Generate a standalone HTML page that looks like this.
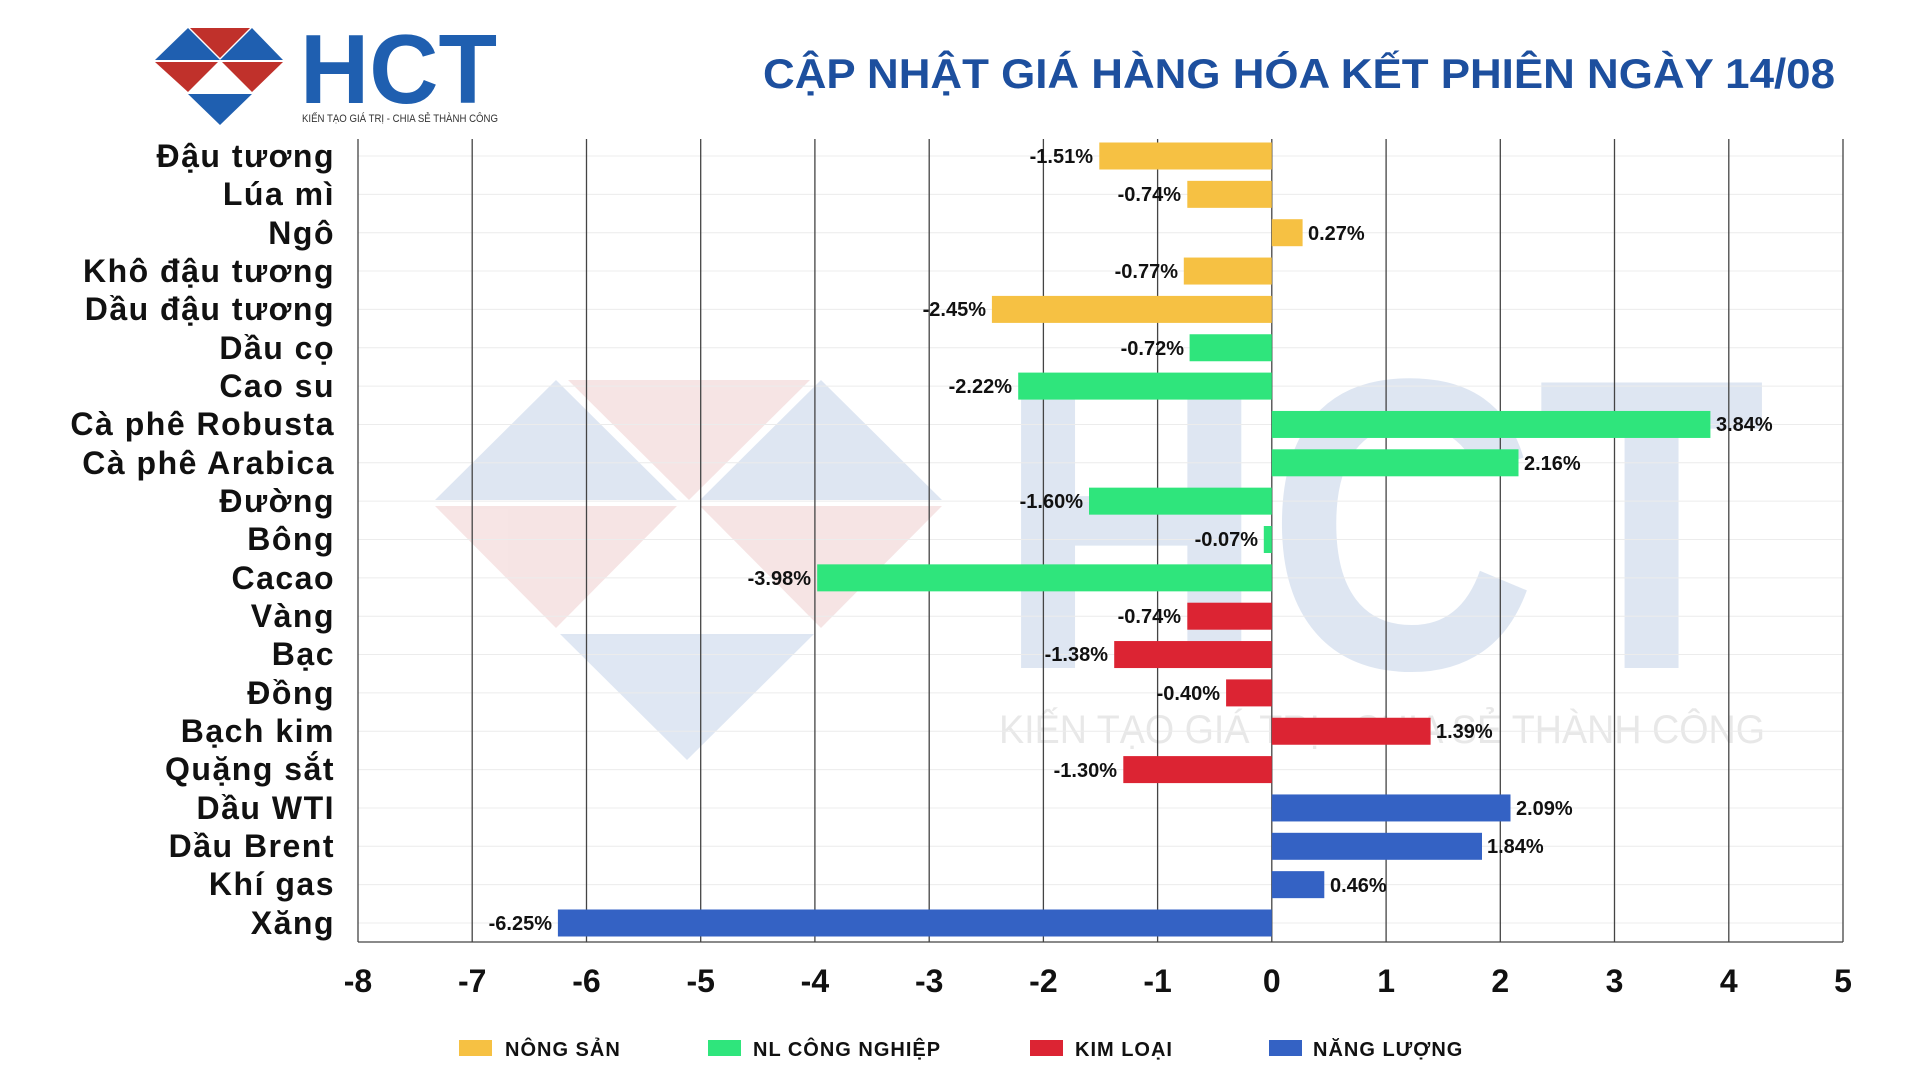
<!DOCTYPE html>
<html><head><meta charset="utf-8"><style>
html,body{margin:0;padding:0;background:#fff;}
svg{display:block;font-family:"Liberation Sans","DejaVu Sans",sans-serif;}
</style></head><body>
<svg width="1920" height="1080" viewBox="0 0 1920 1080" xmlns="http://www.w3.org/2000/svg">
<!-- watermark -->
<g opacity="0.22">
<polygon points="435,500 556,380 677,500" fill="#6f93c8"/>
<polygon points="568,380 810,380 689,500" fill="#d98a8a"/>
<polygon points="700,500 821,380 942,500" fill="#6f93c8"/>
<polygon points="435,506 677,506 556,628" fill="#d98a8a"/>
<polygon points="700,506 942,506 821,628" fill="#d98a8a"/>
<polygon points="560,634 814,634 687,760" fill="#6f93c8"/>
<text x="996" y="668" font-size="415" font-weight="bold" fill="#6f93c8" textLength="770" lengthAdjust="spacingAndGlyphs">HCT</text>
<text x="999" y="743" font-size="40" fill="#999" textLength="766" lengthAdjust="spacingAndGlyphs">KIẾN TẠO GIÁ TRỊ - CHIA SẺ THÀNH CÔNG</text>
</g>
<!-- logo -->
<polygon points="155,60 188,28 220,60" fill="#1f5fb0"/>
<polygon points="190,28 250,28 220,58" fill="#c0312b"/>
<polygon points="220,60 252,28 283,60" fill="#1f5fb0"/>
<polygon points="155,62 218,62 188,92" fill="#c0312b"/>
<polygon points="222,62 283,62 252,92" fill="#c0312b"/>
<polygon points="188,94 252,94 220,125" fill="#1f5fb0"/>
<text x="300" y="103" font-size="98" font-weight="bold" fill="#1f5fb0" textLength="197" lengthAdjust="spacingAndGlyphs">HCT</text>
<text x="302" y="122" font-size="11" fill="#333" textLength="196" lengthAdjust="spacingAndGlyphs">KIẾN TẠO GIÁ TRỊ - CHIA SẺ THÀNH CÔNG</text>
<!-- title -->
<text x="1835" y="88" text-anchor="end" font-size="42" font-weight="bold" fill="#1d4f9e" textLength="1072" lengthAdjust="spacingAndGlyphs">CẬP NHẬT GIÁ HÀNG HÓA KẾT PHIÊN NGÀY 14/08</text>
<!-- grid -->
<g stroke="#ececec" stroke-width="1">
<line x1="358" x2="1843" y1="156" y2="156"/><line x1="358" x2="1843" y1="194.35" y2="194.35"/><line x1="358" x2="1843" y1="232.7" y2="232.7"/><line x1="358" x2="1843" y1="271.05" y2="271.05"/><line x1="358" x2="1843" y1="309.4" y2="309.4"/><line x1="358" x2="1843" y1="347.75" y2="347.75"/><line x1="358" x2="1843" y1="386.1" y2="386.1"/><line x1="358" x2="1843" y1="424.45" y2="424.45"/><line x1="358" x2="1843" y1="462.8" y2="462.8"/><line x1="358" x2="1843" y1="501.15" y2="501.15"/><line x1="358" x2="1843" y1="539.5" y2="539.5"/><line x1="358" x2="1843" y1="577.85" y2="577.85"/><line x1="358" x2="1843" y1="616.2" y2="616.2"/><line x1="358" x2="1843" y1="654.55" y2="654.55"/><line x1="358" x2="1843" y1="692.9" y2="692.9"/><line x1="358" x2="1843" y1="731.25" y2="731.25"/><line x1="358" x2="1843" y1="769.6" y2="769.6"/><line x1="358" x2="1843" y1="807.95" y2="807.95"/><line x1="358" x2="1843" y1="846.3" y2="846.3"/><line x1="358" x2="1843" y1="884.65" y2="884.65"/><line x1="358" x2="1843" y1="923" y2="923"/>
</g>
<g stroke="#444" stroke-width="1.3">
<line x1="472.2" x2="472.2" y1="139" y2="942"/><line x1="586.5" x2="586.5" y1="139" y2="942"/><line x1="700.7" x2="700.7" y1="139" y2="942"/><line x1="814.9" x2="814.9" y1="139" y2="942"/><line x1="929.2" x2="929.2" y1="139" y2="942"/><line x1="1043.4" x2="1043.4" y1="139" y2="942"/><line x1="1157.6" x2="1157.6" y1="139" y2="942"/><line x1="1271.8" x2="1271.8" y1="139" y2="942"/><line x1="1386.1" x2="1386.1" y1="139" y2="942"/><line x1="1500.3" x2="1500.3" y1="139" y2="942"/><line x1="1614.5" x2="1614.5" y1="139" y2="942"/><line x1="1728.8" x2="1728.8" y1="139" y2="942"/><line x1="1843" x2="1843" y1="139" y2="942"/>
<line x1="358" x2="358" y1="139" y2="942"/><line x1="358" x2="1843" y1="942" y2="942"/>
</g>
<!-- bars -->
<g>
<rect x="1099.3" y="142.5" width="172.5" height="27" fill="#f6c143"/>
<rect x="1187.3" y="180.85" width="84.5" height="27" fill="#f6c143"/>
<rect x="1271.8" y="219.2" width="30.8" height="27" fill="#f6c143"/>
<rect x="1183.8" y="257.55" width="88" height="27" fill="#f6c143"/>
<rect x="991.9" y="295.9" width="279.9" height="27" fill="#f6c143"/>
<rect x="1189.6" y="334.25" width="82.2" height="27" fill="#2fe57c"/>
<rect x="1018.2" y="372.6" width="253.6" height="27" fill="#2fe57c"/>
<rect x="1271.8" y="410.95" width="438.6" height="27" fill="#2fe57c"/>
<rect x="1271.8" y="449.3" width="246.7" height="27" fill="#2fe57c"/>
<rect x="1089" y="487.65" width="182.8" height="27" fill="#2fe57c"/>
<rect x="1263.8" y="526" width="8" height="27" fill="#2fe57c"/>
<rect x="817.2" y="564.35" width="454.6" height="27" fill="#2fe57c"/>
<rect x="1187.3" y="602.7" width="84.5" height="27" fill="#dc2433"/>
<rect x="1114.2" y="641.05" width="157.6" height="27" fill="#dc2433"/>
<rect x="1226.1" y="679.4" width="45.7" height="27" fill="#dc2433"/>
<rect x="1271.8" y="717.75" width="158.8" height="27" fill="#dc2433"/>
<rect x="1123.3" y="756.1" width="148.5" height="27" fill="#dc2433"/>
<rect x="1271.8" y="794.45" width="238.7" height="27" fill="#3462c4"/>
<rect x="1271.8" y="832.8" width="210.2" height="27" fill="#3462c4"/>
<rect x="1271.8" y="871.15" width="52.5" height="27" fill="#3462c4"/>
<rect x="557.9" y="909.5" width="713.9" height="27" fill="#3462c4"/>
</g>
<!-- value labels -->
<g font-size="20" font-weight="bold" fill="#111">
<text x="1093" y="163" text-anchor="end">-1.51%</text>
<text x="1181" y="201" text-anchor="end">-0.74%</text>
<text x="1308" y="240">0.27%</text>
<text x="1178" y="278" text-anchor="end">-0.77%</text>
<text x="986" y="316" text-anchor="end">-2.45%</text>
<text x="1184" y="355" text-anchor="end">-0.72%</text>
<text x="1012" y="393" text-anchor="end">-2.22%</text>
<text x="1716" y="431">3.84%</text>
<text x="1524" y="470">2.16%</text>
<text x="1083" y="508" text-anchor="end">-1.60%</text>
<text x="1258" y="546" text-anchor="end">-0.07%</text>
<text x="811" y="585" text-anchor="end">-3.98%</text>
<text x="1181" y="623" text-anchor="end">-0.74%</text>
<text x="1108" y="661" text-anchor="end">-1.38%</text>
<text x="1220" y="700" text-anchor="end">-0.40%</text>
<text x="1436" y="738">1.39%</text>
<text x="1117" y="777" text-anchor="end">-1.30%</text>
<text x="1516" y="815">2.09%</text>
<text x="1487" y="853">1.84%</text>
<text x="1330" y="892">0.46%</text>
<text x="552" y="930" text-anchor="end">-6.25%</text>
</g>
<!-- category labels -->
<g font-size="32" font-weight="bold" fill="#111" text-anchor="end" letter-spacing="1.5">
<text x="335" y="167">Đậu tương</text>
<text x="335" y="205">Lúa mì</text>
<text x="335" y="244">Ngô</text>
<text x="335" y="282">Khô đậu tương</text>
<text x="335" y="320">Dầu đậu tương</text>
<text x="335" y="359">Dầu cọ</text>
<text x="335" y="397">Cao su</text>
<text x="335" y="435">Cà phê Robusta</text>
<text x="335" y="474">Cà phê Arabica</text>
<text x="335" y="512">Đường</text>
<text x="335" y="550">Bông</text>
<text x="335" y="589">Cacao</text>
<text x="335" y="627">Vàng</text>
<text x="335" y="665">Bạc</text>
<text x="335" y="704">Đồng</text>
<text x="335" y="742">Bạch kim</text>
<text x="335" y="780">Quặng sắt</text>
<text x="335" y="819">Dầu WTI</text>
<text x="335" y="857">Dầu Brent</text>
<text x="335" y="895">Khí gas</text>
<text x="335" y="934">Xăng</text>
</g>
<!-- x ticks -->
<g font-size="32" font-weight="bold" fill="#111" text-anchor="middle">
<text x="358" y="992">-8</text><text x="472.2" y="992">-7</text><text x="586.5" y="992">-6</text><text x="700.7" y="992">-5</text><text x="814.9" y="992">-4</text><text x="929.2" y="992">-3</text><text x="1043.4" y="992">-2</text><text x="1157.6" y="992">-1</text><text x="1271.8" y="992">0</text><text x="1386.1" y="992">1</text><text x="1500.3" y="992">2</text><text x="1614.5" y="992">3</text><text x="1728.8" y="992">4</text><text x="1843" y="992">5</text>
</g>
<!-- legend -->
<g font-size="20" font-weight="bold" fill="#111" letter-spacing="1">
<rect x="459" y="1040" width="33" height="16" fill="#f6c143"/><text x="505" y="1056">NÔNG SẢN</text>
<rect x="708" y="1040" width="33" height="16" fill="#2fe57c"/><text x="753" y="1056">NL CÔNG NGHIỆP</text>
<rect x="1030" y="1040" width="33" height="16" fill="#dc2433"/><text x="1075" y="1056">KIM LOẠI</text>
<rect x="1269" y="1040" width="33" height="16" fill="#3462c4"/><text x="1313" y="1056">NĂNG LƯỢNG</text>
</g>
</svg>
</body></html>
